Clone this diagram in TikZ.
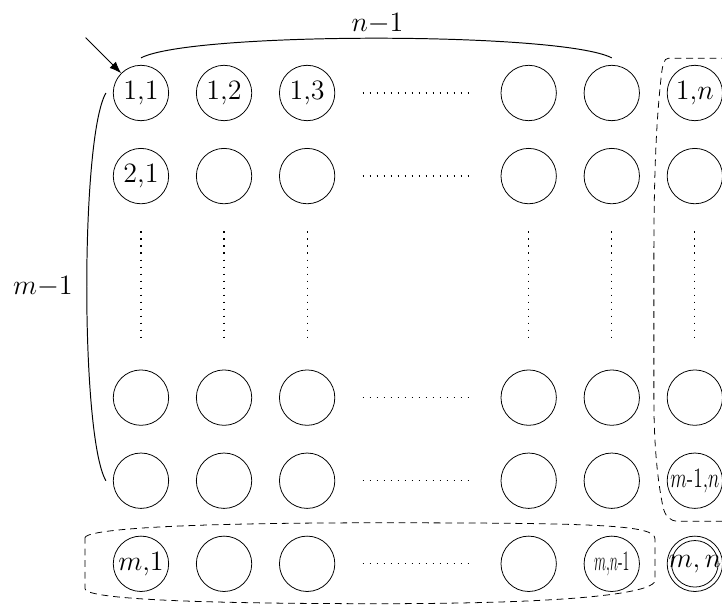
\documentclass[tikz,border=0pt]{standalone}
\usepackage{amsmath}
\usepackage{graphicx}
\usetikzlibrary{arrows.meta}
\tikzset{
  cell/.style={draw, circle, minimum size=1cm, inner sep=0pt},
  lab/.style={font=\Large, inner sep=0pt},
  blab/.style={font=\Large},
  dots/.style={line width=0.6pt, dash pattern=on 0.6pt off 3pt},
  grp/.style={dash pattern=on 3.5pt off 2.5pt},
  brace/.style={line width=0.5pt},
}

\begin{document}
\begin{tikzpicture}
  \useasboundingbox (-2.545,1.679) rectangle (10.49,-9.26);
  % grid of states
  \foreach \r/\y in {1/0,2/-1.5,3/-5.5,4/-7,5/-8.5}{
    \foreach \c/\x in {1/0,2/1.5,3/3,4/7,5/8.5,6/10}{
      \node[cell] (c-\r-\c) at (\x,\y) {};
    }
    \draw[dots] (4,\y) -- (5.9,\y);
  }
  \foreach \x in {0,1.5,3,7,8.5,10}
    \draw[dots] (\x,-2.5) -- (\x,-4.4);
  \draw (c-5-6.center) circle (0.42);
  % labels
  \node[lab] (l11) at (c-1-1) {1,1};
  \node[lab] (l12) at (c-1-2) {1,2};
  \node[lab] (l13) at (c-1-3) {1,3};
  \node[lab] (l1n) at (c-1-6) {1,$n$};
  \node[lab] (l21) at (c-2-1) {2,1};
  \node[lab] (lm1n) at (c-4-6) {\scalebox{0.69}[1]{$m$-1,$n$}};
  \node[lab] (lm1) at (c-5-1) {$m$,1};
  \node[lab] (lmn1) at (c-5-5) {\scalebox{0.5}[1]{$m$,$n$-1}};
  \node[lab] (lmn) at (c-5-6) {$m,n$};
  % start arrow
  \coordinate (entry) at (-1,1);
  \draw[-{Latex[length=6pt,width=4.5pt]}] (entry) -- (c-1-1);
  % braces
  \draw[brace] ([yshift=3.6pt]c-1-1.north) .. controls +(0.9,0.474) and +(-0.9,0.474) .. ([yshift=3.6pt]c-1-5.north);
  \node[blab] (top) at (4.27,1.25) {$n{-}1$};
  \draw[brace] ([xshift=-3.6pt]c-1-1.west) .. controls +(-0.46,-0.8) and +(-0.46,0.8) .. ([xshift=-3.6pt]c-4-1.west);
  \node[blab] (left) at (-1.77,-3.5) {$m{-}1$};
  % groups
  \draw[grp] (-1.01,-8.03) .. controls (-1.01,-7.9) and (0.3,-7.76) .. (4.3,-7.76)
    .. controls (8.3,-7.76) and (9.28,-7.8) .. (9.28,-8.05) -- (9.28,-8.8)
    .. controls (9.28,-8.98) and (8.3,-9.22) .. (4.3,-9.22)
    .. controls (0.3,-9.22) and (-1.01,-9.1) .. (-1.01,-8.95) -- cycle;
  \draw[grp] (10.6,0.626) -- (9.52,0.626) .. controls (9.44,0.626) and (9.42,0.5) .. (9.40,0.36)
    .. controls (9.3,-0.5) and (9.26,-1.5) .. (9.26,-3) -- (9.26,-5.5)
    .. controls (9.26,-6.5) and (9.35,-7.1) .. (9.42,-7.45)
    .. controls (9.46,-7.65) and (9.55,-7.73) .. (9.7,-7.73) -- (10.6,-7.73);
\end{tikzpicture}
\end{document}
